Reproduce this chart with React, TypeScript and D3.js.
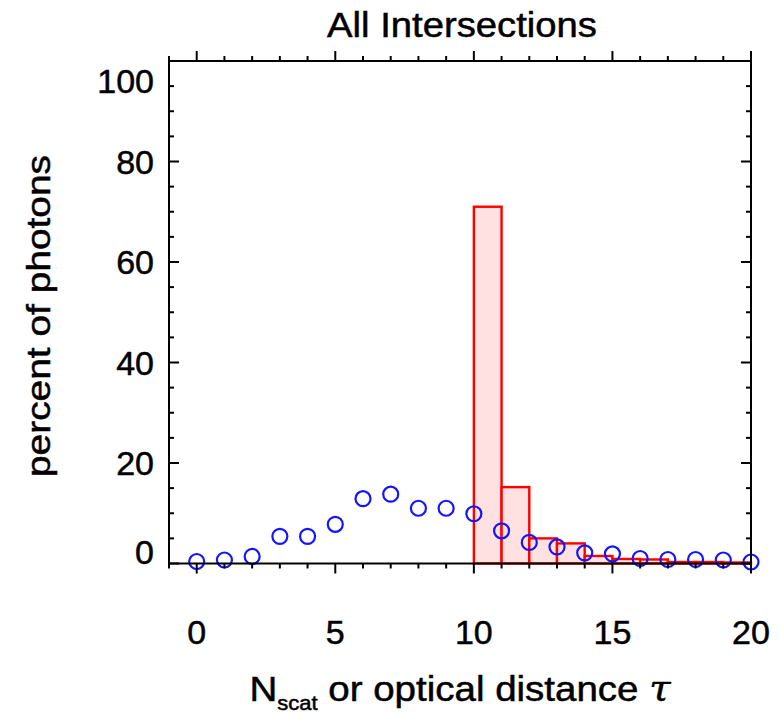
import React, { useEffect, useRef } from 'react'
import * as d3 from 'd3'

// percent of photons per N_scat (blue circles)
const nscat = [0, 1, 2, 3, 4, 5, 6, 7, 8, 9, 10, 11, 12, 13, 14, 15, 16, 17, 18, 19, 20]
const nscatPct = [0.4, 0.7, 1.4, 5.4, 5.4, 7.8, 12.9, 13.8, 11.0, 11.0, 9.9, 6.5, 4.2, 3.3, 2.1, 1.9, 1.0, 0.8, 0.8, 0.7, 0.3]

// optical distance histogram (red bins, left edges)
const tauBins = [10, 11, 12, 13, 14, 15, 16, 17, 18, 19]
const tauPct = [71.0, 15.2, 5.0, 4.0, 1.5, 0.9, 0.8, 0.3, 0.3, 0.2]

const xTicks = [0, 5, 10, 15, 20]
const yTicks = [0, 20, 40, 60, 80, 100]

const W = 780
const H = 716
const FONT = '"Liberation Sans", Arial, Helvetica, sans-serif'

export default function App() {
  const ref = useRef<SVGSVGElement>(null)

  useEffect(() => {
    const svg = d3.select(ref.current)
    svg.selectAll('*').remove()

    const left = 169, right = 751, top = 61, bottom = 563.5

    const x = d3.scaleLinear().domain([-1, 20]).range([left, right])
    const y = d3.scaleLinear().domain([0, 100]).range([bottom, top])

    // histogram
    svg.append('g')
      .selectAll('rect')
      .data(tauBins)
      .enter()
      .append('rect')
      .attr('x', (d) => x(d))
      .attr('width', (d) => x(d + 1) - x(d))
      .attr('y', (d, i) => y(tauPct[i]))
      .attr('height', (d, i) => y(0) - y(tauPct[i]))
      .attr('fill', '#ffe1e1')
      .attr('stroke', '#ff0000')
      .attr('stroke-width', 2.4)

    // circles
    svg.append('g')
      .selectAll('circle')
      .data(nscat)
      .enter()
      .append('circle')
      .attr('cx', (d) => x(d))
      .attr('cy', (d, i) => y(nscatPct[i]))
      .attr('r', 7.5)
      .attr('fill', 'none')
      .attr('stroke', '#1414ff')
      .attr('stroke-width', 2.2)

    // frame
    svg.append('rect')
      .attr('x', left).attr('y', top)
      .attr('width', right - left).attr('height', bottom - top)
      .attr('fill', 'none')
      .attr('stroke', '#000')
      .attr('stroke-width', 2)

    // x ticks (outward, top and bottom)
    const xMinor = d3.range(-1, 21)
    const xMajor = new Set(xTicks)
    const gx = svg.append('g').attr('stroke', '#000').attr('stroke-width', 2)
    xMinor.forEach((v) => {
      const len = xMajor.has(v) ? 10 : 5
      gx.append('line').attr('x1', x(v)).attr('x2', x(v)).attr('y1', bottom).attr('y2', bottom + len)
      gx.append('line').attr('x1', x(v)).attr('x2', x(v)).attr('y1', top).attr('y2', top - len)
    })

    // y ticks (inward, left and right)
    const yMinor = d3.range(0, 101, 5)
    const gy = svg.append('g').attr('stroke', '#000').attr('stroke-width', 2)
    yMinor.forEach((v) => {
      const len = v % 20 === 0 ? 10 : 5
      gy.append('line').attr('x1', left).attr('x2', left + len).attr('y1', y(v)).attr('y2', y(v))
      gy.append('line').attr('x1', right).attr('x2', right - len).attr('y1', y(v)).attr('y2', y(v))
    })

    const txt = svg.append('g')
      .attr('font-family', FONT)
      .attr('fill', '#000')
      .attr('stroke', '#000')
      .attr('stroke-width', 0.5)

    // tick labels
    txt.append('g')
      .selectAll('text')
      .data(xTicks)
      .enter()
      .append('text')
      .attr('x', (d) => x(d))
      .attr('y', 644)
      .attr('text-anchor', 'middle')
      .attr('font-size', 34)
      .text((d) => d)

    txt.append('g')
      .selectAll('text')
      .data(yTicks)
      .enter()
      .append('text')
      .attr('x', 154)
      .attr('y', (d) => (d === 0 ? bottom : d === 100 ? 93 : y(d) + 12))
      .attr('text-anchor', 'end')
      .attr('font-size', 34)
      .text((d) => d)

    // title
    txt.append('text')
      .attr('x', 462).attr('y', 37)
      .attr('text-anchor', 'middle')
      .attr('font-size', 35)
      .attr('textLength', 270)
      .attr('lengthAdjust', 'spacingAndGlyphs')
      .text('All Intersections')

    // y title
    txt.append('text')
      .attr('transform', 'translate(50,316) rotate(-90)')
      .attr('text-anchor', 'middle')
      .attr('font-size', 34)
      .attr('textLength', 322)
      .attr('lengthAdjust', 'spacingAndGlyphs')
      .text('percent of photons')

    // x title
    const xt = txt.append('text')
      .attr('transform', 'translate(460,701) scale(1.1,1)')
      .attr('text-anchor', 'middle')
      .attr('font-size', 35)
    xt.append('tspan').text('N')
    xt.append('tspan').attr('font-size', 20).attr('dy', 9).text('scat')
    xt.append('tspan').attr('dy', -9).text(' or optical distance ')
    xt.append('tspan')
      .attr('font-family', '"DejaVu Serif", serif')
      .attr('font-style', 'italic')
      .text('\u03c4')
  }, [])

  return (
    <svg
      ref={ref}
      width={W}
      height={H}
      style={{ position: 'absolute', left: 0, top: 0, background: '#fff' }}
    />
  )
}
